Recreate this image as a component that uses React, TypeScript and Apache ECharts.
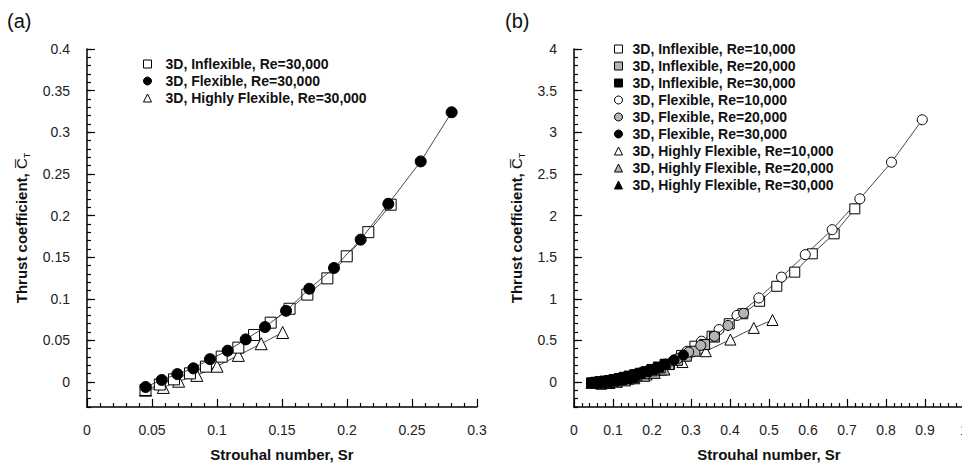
import React, { useEffect, useRef } from "react";
import * as echarts from "echarts";

// ---------- Panel (a): Re = 30,000 ----------
const aInflexSr = [0.045, 0.056, 0.0669, 0.0792, 0.0915, 0.1036, 0.1164, 0.1285, 0.1413, 0.1558, 0.1695, 0.1849, 0.1998, 0.2164, 0.2336];
const aInflexCt = [-0.0096, -0.003, 0.0032, 0.0104, 0.0185, 0.0305, 0.0413, 0.0565, 0.0713, 0.088, 0.105, 0.1245, 0.151, 0.18, 0.213];
const aFlexSr = [0.0451, 0.0575, 0.0695, 0.0818, 0.0946, 0.1082, 0.1221, 0.1369, 0.1531, 0.171, 0.19, 0.2105, 0.2318, 0.2567, 0.2805];
const aFlexCt = [-0.006, 0.0025, 0.0095, 0.0164, 0.0275, 0.0376, 0.0512, 0.066, 0.0855, 0.112, 0.137, 0.171, 0.214, 0.265, 0.324];
const aHighSr = [0.045, 0.0587, 0.0705, 0.0845, 0.1, 0.1164, 0.134, 0.1505];
const aHighCt = [-0.0098, -0.0065, 0.001, 0.008, 0.019, 0.032, 0.046, 0.0595];

// ---------- Panel (b): Re = 10,000 / 20,000 / 30,000 ----------
const bInflex10Sr = [0.14, 0.175, 0.21, 0.245, 0.276, 0.31, 0.354, 0.398, 0.433, 0.476, 0.52, 0.566, 0.611, 0.667, 0.72];
const bInflex10Ct = [0.05, 0.09, 0.14, 0.21, 0.32, 0.43, 0.55, 0.7, 0.82, 0.97, 1.15, 1.32, 1.54, 1.78, 2.08];
const bInflex20Sr = [0.07, 0.087, 0.104, 0.123, 0.142, 0.161, 0.18, 0.2, 0.221, 0.243, 0.265, 0.288, 0.31, 0.335, 0.36];
const bInflex20Ct = [-0.02, -0.005, 0.012, 0.03, 0.05, 0.075, 0.1, 0.135, 0.17, 0.21, 0.26, 0.31, 0.37, 0.45, 0.54];
const bInflex30Sr = aInflexSr;
const bInflex30Ct = aInflexCt;
const bFlex10Sr = [0.145, 0.182, 0.218, 0.255, 0.29, 0.327, 0.372, 0.418, 0.474, 0.532, 0.593, 0.662, 0.733, 0.814, 0.893];
const bFlex10Ct = [0.06, 0.11, 0.17, 0.26, 0.37, 0.49, 0.63, 0.8, 1.01, 1.26, 1.53, 1.83, 2.2, 2.64, 3.15];
const bFlex20Sr = [0.07, 0.089, 0.108, 0.127, 0.147, 0.168, 0.19, 0.213, 0.237, 0.265, 0.294, 0.325, 0.36, 0.395, 0.435];
const bFlex20Ct = [-0.01, 0.01, 0.025, 0.042, 0.068, 0.095, 0.13, 0.17, 0.215, 0.28, 0.36, 0.44, 0.55, 0.68, 0.825];
const bFlex30Sr = aFlexSr;
const bFlex30Ct = aFlexCt;
const bHigh10Sr = [0.14, 0.186, 0.224, 0.278, 0.338, 0.401, 0.461, 0.509];
const bHigh10Ct = [0.04, 0.09, 0.15, 0.24, 0.37, 0.51, 0.65, 0.745];
const bHigh20Sr = [0.07, 0.091, 0.11, 0.131, 0.155, 0.18, 0.207, 0.232];
const bHigh20Ct = [-0.02, -0.012, 0.003, 0.02, 0.045, 0.075, 0.11, 0.15];
const bHigh30Sr = aHighSr;
const bHigh30Ct = aHighCt;

const legendA = ["3D, Inflexible, Re=30,000", "3D, Flexible, Re=30,000", "3D, Highly Flexible, Re=30,000"];
const legendB = [
  "3D, Inflexible, Re=10,000",
  "3D, Inflexible, Re=20,000",
  "3D, Inflexible, Re=30,000",
  "3D, Flexible, Re=10,000",
  "3D, Flexible, Re=20,000",
  "3D, Flexible, Re=30,000",
  "3D, Highly Flexible, Re=10,000",
  "3D, Highly Flexible, Re=20,000",
  "3D, Highly Flexible, Re=30,000",
];

const xTitle = "Strouhal number, Sr";
const yTitle = "{n|Thrust coefficient, }{c|C\u0305}{s|T}";

const FONT = "'Liberation Sans', Arial, Helvetica, sans-serif";
const GREY = "#b4b4b4";

const pairs = (xs: number[], ys: number[]) => xs.map((x, i) => [x, ys[i]]);

export default function App() {
  const ref = useRef<HTMLDivElement>(null);

  useEffect(() => {
    if (!ref.current) return;
    const chart = echarts.init(ref.current, undefined, { renderer: "svg" });

    const axisLineStyle = { color: "#000", width: 1.5 };
    const tickStyle = { color: "#000", width: 1.2 };
    const labelStyle = { fontSize: 14, color: "#222", fontFamily: FONT };

    const xAxisBase = (gridIndex: number, max: number, interval: number) => ({
      gridIndex,
      type: "value",
      min: 0,
      max,
      interval,
      axisLine: { show: true, onZero: false, lineStyle: axisLineStyle },
      axisTick: { show: true, inside: true, length: 8, lineStyle: tickStyle },
      minorTick: { show: true, splitNumber: 5, length: 4, lineStyle: tickStyle },
      splitLine: { show: false },
      minorSplitLine: { show: false },
      axisLabel: { ...labelStyle, margin: 16, showMaxLabel: true, hideOverlap: false },
      name: xTitle,
      nameLocation: "middle",
      nameGap: 40,
      nameTextStyle: { fontSize: 15, fontWeight: "bold", color: "#111", fontFamily: FONT },
    });

    const yMain = (gridIndex: number, min: number, max: number, step: number, gap: number) => ({
      gridIndex,
      type: "value",
      position: "left",
      min,
      max,
      splitNumber: 9,
      minInterval: step,
      maxInterval: step,
      axisLine: { show: true, onZero: false, lineStyle: axisLineStyle },
      axisTick: { show: true, inside: true, length: 8, lineStyle: tickStyle },
      splitLine: { show: false },
      axisLabel: { ...labelStyle, margin: 17, showMinLabel: false },
      name: yTitle,
      nameLocation: "middle",
      nameRotate: 90,
      nameGap: gap,
      nameTextStyle: {
        color: "#111",
        fontFamily: FONT,
        rich: {
          n: { fontSize: 15, fontWeight: "bold", color: "#111", fontFamily: FONT, lineHeight: 20 },
          c: { fontSize: 15, fontWeight: "normal", color: "#111", fontFamily: FONT, lineHeight: 20 },
          s: { fontSize: 9, fontWeight: "normal", color: "#111", fontFamily: FONT, lineHeight: 14, verticalAlign: "bottom" },
        },
      },
    });

    const yMinor = (gridIndex: number, min: number, max: number, step: number) => ({
      gridIndex,
      type: "value",
      position: "left",
      min,
      max,
      interval: step,
      axisLine: { show: false, onZero: false },
      axisTick: { show: true, inside: true, length: 4, lineStyle: tickStyle },
      splitLine: { show: false },
      axisLabel: { show: false },
    });

    const mk = (
      name: string,
      xi: number,
      yi: number,
      xs: number[],
      ys: number[],
      symbol: string,
      fill: string,
      size: number,
      z: number
    ) => ({
      name,
      type: "line",
      xAxisIndex: xi,
      yAxisIndex: yi,
      data: pairs(xs, ys),
      symbol,
      symbolSize: symbol === "triangle" ? size + 1 : size,
      showAllSymbol: true,
      z,
      lineStyle: { color: "#333", width: 0.9 },
      itemStyle: { color: fill, borderColor: "#000", borderWidth: 1 },
      emphasis: { disabled: true },
    });

    const legendItem = (prefix: string, label: string, icon: string, fill: string) => ({
      name: prefix + label,
      icon,
      itemStyle: { color: fill, borderColor: "#000", borderWidth: 1 },
    });

    const option: any = {
      animation: false,
      backgroundColor: "#fff",
      textStyle: { fontFamily: FONT },
      title: [
        { text: "(a)", left: 7, top: 11, padding: 0, textStyle: { fontSize: 20, fontWeight: "normal", color: "#111", fontFamily: FONT } },
        { text: "(b)", left: 505, top: 11, padding: 0, textStyle: { fontSize: 20, fontWeight: "normal", color: "#111", fontFamily: FONT } },
      ],
      grid: [
        { left: 87, top: 49, right: 485, bottom: 57, outerBoundsMode: "none", containLabel: false },
        { left: 574, top: 49, right: -2, bottom: 57, outerBoundsMode: "none", containLabel: false },
      ],
      xAxis: [xAxisBase(0, 0.3, 0.05), xAxisBase(1, 1, 0.1)],
      yAxis: [
        yMain(0, -0.03, 0.4, 0.05, 56),
        yMinor(0, -0.03, 0.4, 0.01),
        yMain(1, -0.3, 4, 0.5, 48),
        yMinor(1, -0.3, 4, 0.1),
      ],
      legend: [
        {
          left: 143,
          top: 57,
          orient: "vertical",
          padding: 0,
          itemWidth: 8,
          itemHeight: 8,
          itemGap: 3,
          selectedMode: false,
          formatter: (n: string) => n.slice(2),
          textStyle: { fontSize: 14, fontWeight: "bold", color: "#111", fontFamily: FONT, padding: [0, 0, 0, 9] },
          data: [
            legendItem("a|", legendA[0], "rect", "#fff"),
            legendItem("a|", legendA[1], "circle", "#000"),
            legendItem("a|", legendA[2], "triangle", "#fff"),
          ],
        },
        {
          left: 614,
          top: 42,
          orient: "vertical",
          padding: 0,
          itemWidth: 8,
          itemHeight: 8,
          itemGap: 3,
          selectedMode: false,
          formatter: (n: string) => n.slice(2),
          textStyle: { fontSize: 14, fontWeight: "bold", color: "#111", fontFamily: FONT, padding: [0, 0, 0, 5] },
          data: [
            legendItem("b|", legendB[0], "rect", "#fff"),
            legendItem("b|", legendB[1], "rect", GREY),
            legendItem("b|", legendB[2], "rect", "#000"),
            legendItem("b|", legendB[3], "circle", "#fff"),
            legendItem("b|", legendB[4], "circle", GREY),
            legendItem("b|", legendB[5], "circle", "#000"),
            legendItem("b|", legendB[6], "triangle", "#fff"),
            legendItem("b|", legendB[7], "triangle", GREY),
            legendItem("b|", legendB[8], "triangle", "#000"),
          ],
        },
      ],
      series: [
        mk("a|" + legendA[2], 0, 0, aHighSr, aHighCt, "triangle", "#fff", 11, 2),
        mk("a|" + legendA[0], 0, 0, aInflexSr, aInflexCt, "rect", "#fff", 11, 3),
        mk("a|" + legendA[1], 0, 0, aFlexSr, aFlexCt, "circle", "#000", 11, 4),

        mk("b|" + legendB[6], 1, 2, bHigh10Sr, bHigh10Ct, "triangle", "#fff", 10, 2),
        mk("b|" + legendB[0], 1, 2, bInflex10Sr, bInflex10Ct, "rect", "#fff", 10, 2),
        mk("b|" + legendB[3], 1, 2, bFlex10Sr, bFlex10Ct, "circle", "#fff", 10, 2),
        mk("b|" + legendB[7], 1, 2, bHigh20Sr, bHigh20Ct, "triangle", GREY, 10, 3),
        mk("b|" + legendB[1], 1, 2, bInflex20Sr, bInflex20Ct, "rect", GREY, 10, 3),
        mk("b|" + legendB[4], 1, 2, bFlex20Sr, bFlex20Ct, "circle", GREY, 10, 3),
        mk("b|" + legendB[8], 1, 2, bHigh30Sr, bHigh30Ct, "triangle", "#000", 10, 4),
        mk("b|" + legendB[2], 1, 2, bInflex30Sr, bInflex30Ct, "rect", "#000", 10, 4),
        mk("b|" + legendB[5], 1, 2, bFlex30Sr, bFlex30Ct, "circle", "#000", 10, 4),
      ],
    };

    chart.setOption(option);
    return () => chart.dispose();
  }, []);

  return (
    <div
      ref={ref}
      style={{ position: "fixed", left: 0, top: 0, width: 962, height: 464, background: "#fff" }}
    />
  );
}
